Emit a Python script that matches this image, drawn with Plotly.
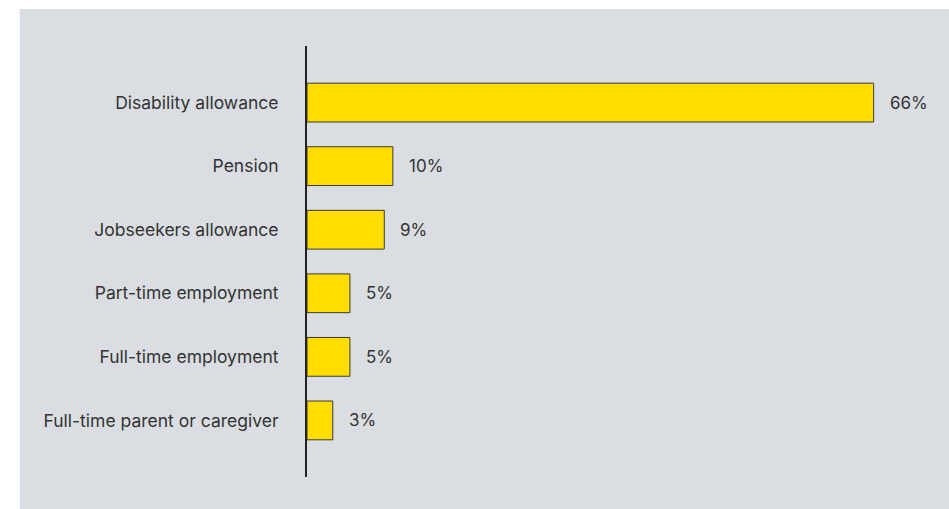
import plotly.graph_objects as go

categories = ["Disability allowance", "Pension", "Jobseekers allowance",
              "Part-time employment", "Full-time employment", "Full-time parent or caregiver"]
values = [66, 10, 9, 5, 5, 3]
value_labels = ["66%", "10%", "9%", "5%", "5%", "3%"]

W, H = 949, 509
ml, mt, mb = 307, 46, 32
pw = 600.6
mr = W - ml - pw
ph = H - mt - mb

fig = go.Figure(go.Bar(
    x=values, y=categories, orientation="h",
    marker=dict(color="#ffdd00", line=dict(color="#3a3a3a", width=1)),
    width=0.61, hoverinfo="skip",
))

for c, v, t in zip(categories, values, value_labels):
    fig.add_annotation(x=v, y=c, text=t, showarrow=False, xanchor="left",
                       xshift=14, font=dict(family="Inter", size=17, color="#333333"))

fig.add_shape(type="rect", xref="paper", yref="paper", layer="below",
              x0=(20 - ml) / pw, x1=(W + 10 - ml) / pw,
              y0=(H - mb - H - 10) / ph, y1=(H - mb - 9) / ph,
              fillcolor="#dadee2", line=dict(width=0))

fig.update_layout(
    width=W, height=H,
    margin=dict(l=ml, r=mr, t=mt, b=mb),
    paper_bgcolor="white", plot_bgcolor="rgba(0,0,0,0)",
    showlegend=False,
    font=dict(family="Inter", size=17, color="#333333"),
    xaxis=dict(range=[0, 70], visible=False, fixedrange=True),
    yaxis=dict(autorange=False, range=[5.89, -0.89], showgrid=False,
               showline=True, linecolor="#222222", linewidth=2,
               ticks="", ticklabelstandoff=23, zeroline=False, fixedrange=True,
               tickfont=dict(family="Inter", size=17.5, color="#333333")),
)

fig.write_html(
    "out.html",
    config={"displayModeBar": False, "staticPlot": True},
    post_script="document.body.style.margin='0';"
                "document.documentElement.style.overflow='hidden';",
)
